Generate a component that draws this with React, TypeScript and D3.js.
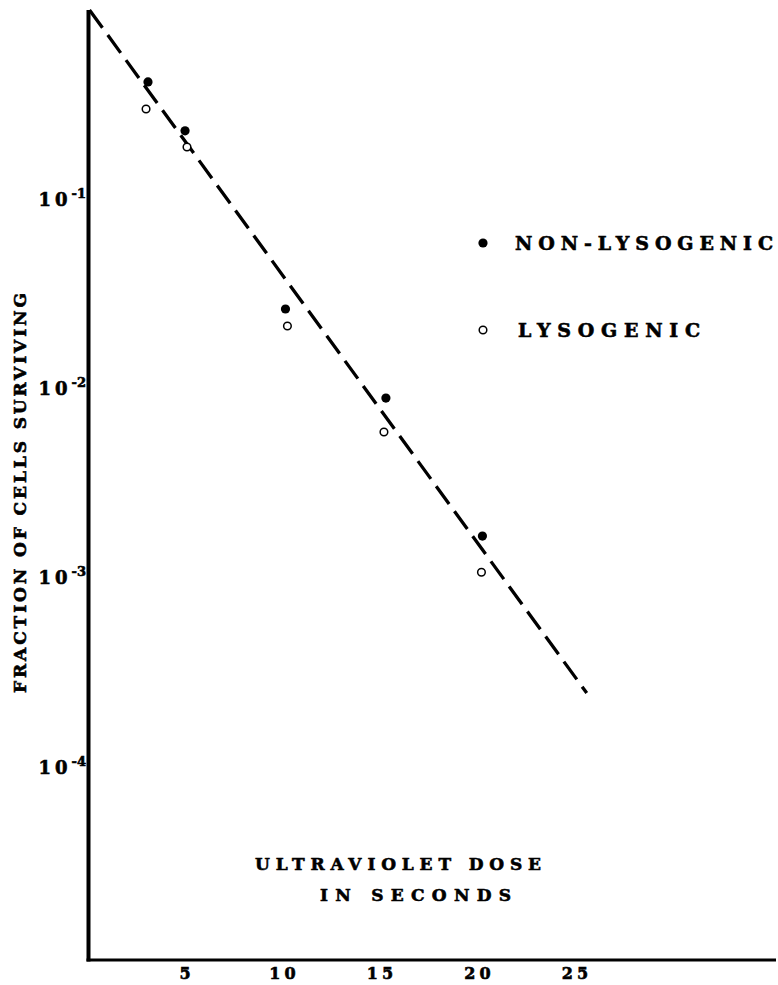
import React, { useEffect } from 'react';
import * as d3 from 'd3';

const W = 778;
const H = 985;

// tick labels
const xTicks = [5, 10, 15, 20, 25];
const yTicks = [1e-1, 1e-2, 1e-3, 1e-4];
const yTickExp = ['-1', '-2', '-3', '-4'];

// NON-LYSOGENIC (filled)
const nonLysoDose = [3.0, 4.9, 10.05, 15.2, 20.15];
const nonLysoFrac = [0.417, 0.23, 0.0263, 0.0089, 0.00166];

// LYSOGENIC (open)
const lysoDose = [2.9, 5.0, 10.15, 15.1, 20.1];
const lysoFrac = [0.3, 0.189, 0.0214, 0.00589, 0.00107];

// fitted dashed line
const fitDose = [0, 25.5];
const fitFrac = [1, 0.000246];

const FONT = '"DejaVu Serif", serif';
const heavy = { stroke: '#000', strokeWidth: 0.6, paintOrder: 'stroke' as const };

export default function App() {
  useEffect(() => {
    document.body.style.margin = '0';
  }, []);

  const x = d3.scaleLinear().domain([0, 35]).range([89.5, 89.5 + 35 * 19.5]);
  const y = d3.scaleLog().domain([1, 1e-4]).range([10, 767]);
  const axisY = 960;

  const fitPts: [number, number][] = fitDose.map((d, i) => [x(d), y(fitFrac[i])]);
  const line = d3.line<[number, number]>().x(p => p[0]).y(p => p[1]);

  return (
    <svg width={W} height={H} style={{ position: 'absolute', left: 0, top: 0, background: '#fff' }}>
      <rect x={0} y={0} width={W} height={H} fill="#fff" />
      {/* axes */}
      <line x1={x(0) - 1} y1={10} x2={x(0) - 1} y2={axisY + 1.5} stroke="#000" strokeWidth={4} />
      <line x1={x(0) - 3} y1={axisY} x2={W - 2} y2={axisY} stroke="#000" strokeWidth={3} />

      {/* x tick labels */}
      {xTicks.map(t => (
        <text key={t} x={x(t)} y={979} textAnchor="middle" fontFamily={FONT} fontWeight="bold"
          fontSize={16} letterSpacing={4} {...heavy}>
          {String(t)}
        </text>
      ))}

      {/* y tick labels */}
      {yTicks.map((t, i) => (
        <text key={t} x={86} y={y(t) + 6.5} textAnchor="end" fontFamily={FONT} fontWeight="bold" fill="#000" {...heavy}>
          <tspan fontSize={18} letterSpacing={4}>10</tspan>
          <tspan fontSize={13} dy={-8}>{yTickExp[i]}</tspan>
        </text>
      ))}

      {/* y axis label */}
      <text transform="translate(26,693) rotate(-90)" x={0} y={0} fontFamily={FONT} fontWeight="bold"
        fontSize={17} textLength={400} lengthAdjust="spacing" {...heavy}>
        FRACTION OF CELLS SURVIVING
      </text>

      {/* fitted line */}
      <path d={line(fitPts) || ''} fill="none" stroke="#000" strokeWidth={3.3} strokeDasharray="22 9" />

      {/* points */}
      {nonLysoDose.map((d, i) => (
        <circle key={'n' + i} cx={x(d)} cy={y(nonLysoFrac[i])} r={4.6} fill="#000" />
      ))}
      {lysoDose.map((d, i) => (
        <circle key={'l' + i} cx={x(d)} cy={y(lysoFrac[i])} r={3.8} fill="#fff" stroke="#000" strokeWidth={1.5} />
      ))}

      {/* legend */}
      <circle cx={483} cy={243} r={4.6} fill="#000" />
      <text x={515} y={250} fontFamily={FONT} fontWeight="bold" fontSize={19} textLength={258} lengthAdjust="spacing" {...heavy}>
        NON-LYSOGENIC
      </text>
      <circle cx={483} cy={330} r={3.8} fill="#fff" stroke="#000" strokeWidth={1.5} />
      <text x={518} y={337} fontFamily={FONT} fontWeight="bold" fontSize={19} textLength={182} lengthAdjust="spacing" {...heavy}>
        LYSOGENIC
      </text>

      {/* x axis title */}
      <text x={255} y={870} fontFamily={FONT} fontWeight="bold" fontSize={17} textLength={286} lengthAdjust="spacing" {...heavy}>
        ULTRAVIOLET DOSE
      </text>
      <text x={320} y={901} fontFamily={FONT} fontWeight="bold" fontSize={17} textLength={191} lengthAdjust="spacing" {...heavy}>
        IN SECONDS
      </text>
    </svg>
  );
}
